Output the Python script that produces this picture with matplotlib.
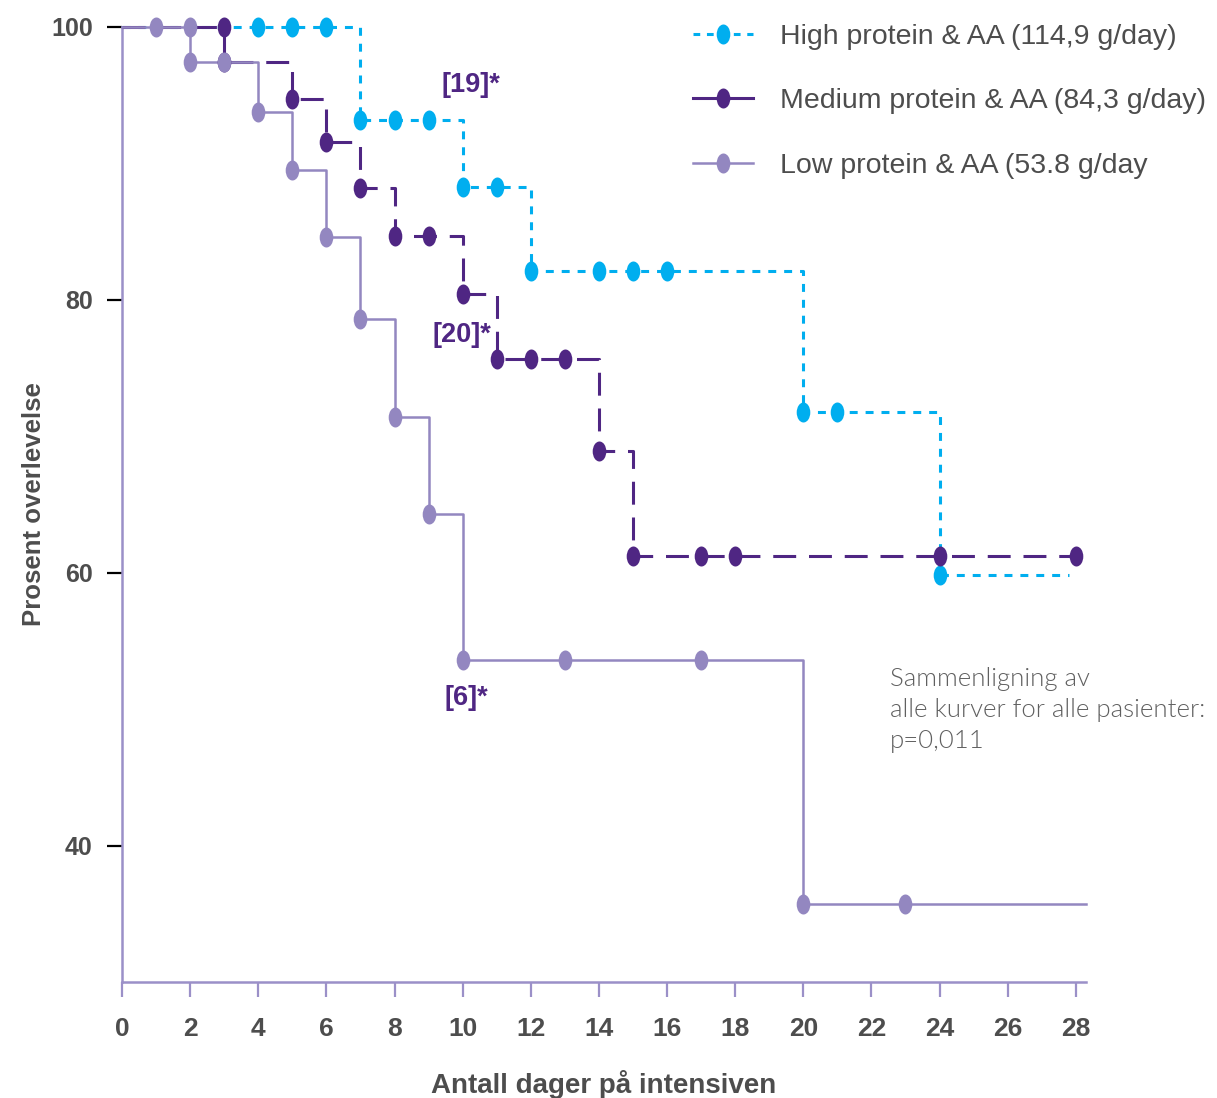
import numpy as np
import matplotlib
matplotlib.use("Agg")
import matplotlib.pyplot as plt
import matplotlib.path as mpath
from matplotlib.lines import Line2D

# ---------------- data ----------------
labels = ["High protein & AA (114,9 g/day)",
          "Medium protein & AA (84,3 g/day)",
          "Low protein & AA (53.8 g/day"]

high_t = [0, 7, 10, 12, 20, 24]
high_s = [100, 93.2, 88.3, 82.1, 71.8, 59.8]
high_end = 27.8
high_cx = [4, 5, 6, 7, 8, 9, 10, 11, 12, 14, 15, 16, 20, 21, 24]
high_cy = [100, 100, 100, 93.2, 93.2, 93.2, 88.3, 88.3, 82.1, 82.1, 82.1, 82.1, 71.8, 71.8, 59.8]

med_t = [0, 3, 5, 6, 7, 8, 10, 11, 14, 15]
med_s = [100, 97.4, 94.7, 91.6, 88.2, 84.7, 80.4, 75.7, 68.9, 61.2]
med_end = 28
med_cx = [3, 3, 5, 6, 7, 8, 9, 10, 11, 12, 13, 14, 15, 17, 18, 24, 28]
med_cy = [100, 97.4, 94.7, 91.6, 88.2, 84.7, 84.7, 80.4, 75.7, 75.7, 75.7, 68.9, 61.2, 61.2, 61.2, 61.2, 61.2]

low_t = [0, 2, 4, 5, 6, 7, 8, 9, 10, 20]
low_s = [100, 97.4, 93.8, 89.5, 84.6, 78.6, 71.4, 64.3, 53.6, 35.7]
low_end = 28.3
low_cx = [1, 2, 2, 3, 4, 5, 6, 7, 8, 9, 10, 13, 17, 20, 23]
low_cy = [100, 100, 97.4, 97.4, 93.8, 89.5, 84.6, 78.6, 71.4, 64.3, 53.6, 53.6, 53.6, 35.7, 35.7]

xticks = list(range(0, 29, 2))
yticks = [40, 60, 80, 100]

annot_text = ["[19]*", "[20]*", "[6]*"]
annot_x = [10.25, 9.98, 10.1]
annot_y = [95.75, 77.4, 50.8]

note = "Sammenligning av\nalle kurver for alle pasienter:\np=0,011"

# ---------------- style ----------------
C_HIGH = "#00AEEF"
C_MED = "#4F2683"
C_LOW = "#9387C0"
C_AX = "#9B90C8"
C_TXT = "#4D4D4D"

circ = mpath.Path.unit_circle()
ELL = mpath.Path(circ.vertices * np.array([0.68, 1.0]), circ.codes)

fig = plt.figure(figsize=(12.17, 10.98), dpi=100)
ax = fig.add_axes([122/1217, 1-982/1098, (1086-122)/1217, (982-27)/1098])

def draw(t, s, end, cx, cy, color, lw, dashes, z):
    xs = list(t) + [end]
    ys = list(s) + [s[-1]]
    ln, = ax.step(xs, ys, where="post", color=color, lw=lw, clip_on=False, zorder=z)
    if dashes is not None:
        ln.set_dashes(dashes)
        ln.set_dash_capstyle("butt")
    ax.plot(cx, cy, ls="none", marker=ELL, markersize=14.4, color=color,
            markeredgewidth=0, clip_on=False, zorder=z + 3)

draw(high_t, high_s, high_end, high_cx, high_cy, C_HIGH, 2.2, (2.6, 2.6), 2)
draw(med_t, med_s, med_end, med_cx, med_cy, C_MED, 2.2, (7.5, 4.2), 3)
draw(low_t, low_s, low_end, low_cx, low_cy, C_LOW, 1.8, None, 4)

ax.set_xlim(0, 28.3)
ax.set_ylim(30, 100)
for sp in ["top", "right"]:
    ax.spines[sp].set_visible(False)
for sp in ["left", "bottom"]:
    ax.spines[sp].set_color(C_AX)
    ax.spines[sp].set_linewidth(1.8)

NARROW = ["Liberation Sans Narrow", "Liberation Sans", "DejaVu Sans"]
SANS = ["Liberation Sans", "DejaVu Sans"]

ax.set_xticks(xticks)
ax.set_xticklabels([str(v) for v in xticks])
ax.set_yticks(yticks)
ax.set_yticklabels([str(v) for v in yticks])
ax.tick_params(axis="x", length=11, width=1.6, color=C_AX, pad=14,
               labelsize=19, labelcolor=C_TXT)
ax.tick_params(axis="y", length=11, width=1.6, pad=10,
               labelsize=18, labelcolor=C_TXT)
for lab in ax.get_xticklabels():
    lab.set_family(NARROW)
    lab.set_fontweight("bold")
for lab in ax.get_yticklabels():
    lab.set_family(SANS)
    lab.set_fontweight("bold")
ytick_cols = {40: "#222222", 60: "#222222", 80: C_AX, 100: C_AX}
for tk, v in zip(ax.yaxis.get_major_ticks(), yticks):
    tk.tick1line.set_color(ytick_cols[v])

ax.set_xlabel("Antall dager på intensiven", fontsize=20, fontweight="bold",
              color=C_TXT, labelpad=21, family=NARROW)
ax.set_ylabel("Prosent overlevelse", fontsize=18.5, fontweight="bold",
              color=C_TXT, labelpad=4, family=SANS)

for t, x, y in zip(annot_text, annot_x, annot_y):
    ax.text(x, y, t, ha="center", va="center", fontsize=19.5, fontweight="bold",
            color=C_MED, family=SANS, zorder=10)

ax.text(22.55, 53.1, note, ha="left", va="top", fontsize=18.5, color="#606060",
        family=["Lato", "DejaVu Sans"], fontweight=300, linespacing=1.38)

handles = [
    Line2D([], [], color=C_HIGH, lw=2.2, dashes=(2.2, 2.2), marker=ELL,
           markersize=14.4, markeredgewidth=0),
    Line2D([], [], color=C_MED, lw=2.2, marker=ELL, markersize=14.4,
           markeredgewidth=0),
    Line2D([], [], color=C_LOW, lw=1.8, marker=ELL, markersize=14.4,
           markeredgewidth=0),
]
leg = fig.legend(handles, labels, loc="upper left",
                 bbox_to_anchor=(693/1217, 1 - 24/1098), frameon=False,
                 borderpad=0, borderaxespad=0, handlelength=2.1,
                 handletextpad=0.95, labelspacing=1.35,
                 prop={"family": SANS, "size": 20.5})
for txt in leg.get_texts():
    txt.set_color(C_TXT)

fig.savefig("out.png", dpi=100)
